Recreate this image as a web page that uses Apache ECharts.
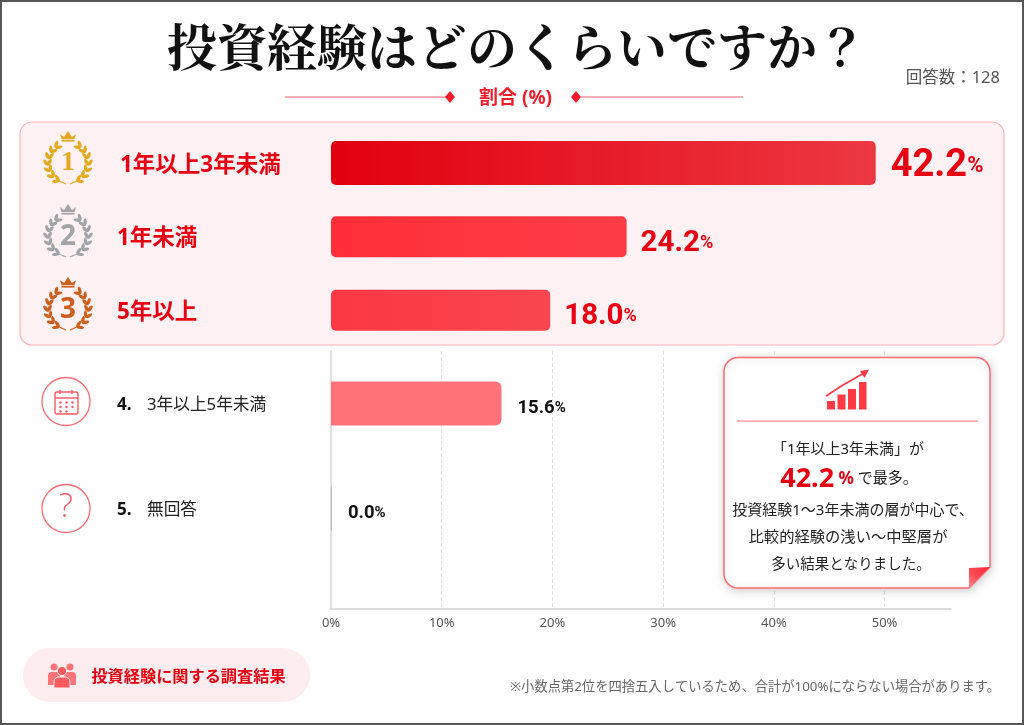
<!DOCTYPE html>
<html lang="ja"><head><meta charset="utf-8">
<style>html,body{margin:0;padding:0;background:#fff}#c{width:1024px;height:725px}</style>
<script src="https://cdn.jsdelivr.net/npm/echarts@6/dist/echarts.min.js"></script>
</head><body><div id="c"></div>
<script>
const categories = ['1年以上3年未満','1年未満','5年以上','3年以上5年未満','無回答'];
// the percentages printed beside the bars
const shownPercent = [42.2,24.2,18.0,15.6,0.0];
// how far each drawn bar reaches on the printed axis
const barReach = [49.2,26.7,19.8,15.4,0];
const tickLabels = [0,10,20,30,40,50];
const respondents = '回答数：128';

const JP = '"Noto Sans","Noto Sans CJK JP",sans-serif';
const NUM = '"Roboto","Noto Sans",sans-serif';
const RED = '#E60012';
const chart = echarts.init(document.getElementById('c'));

function grad(a,b){return new echarts.graphic.LinearGradient(0,0,1,0,[{offset:0,color:a},{offset:1,color:b}]);}
const g = [];
function txt(x,y,text,style,z){g.push({type:'text',x,y,z:z||1,style:Object.assign({text,align:'center',verticalAlign:'middle',fontFamily:JP,fill:'#222'},style)});}
function corner(pts,cx,cy,r,a0,a1){for(let i=0;i<=8;i++){const a=(a0+(a1-a0)*i/8)*Math.PI/180;pts.push([cx+r*Math.cos(a),cy+r*Math.sin(a)]);}}

// frame
g.push({type:'rect',z:-3,shape:{x:1,y:1,width:1022,height:723},style:{fill:'#FEFEFE',stroke:'#555',lineWidth:2}});
// header decorations
g.push({type:'line',z:1,shape:{x1:285,y1:97,x2:446,y2:97},style:{stroke:'#FF9097',lineWidth:1.5}});
g.push({type:'line',z:1,shape:{x1:581,y1:97,x2:743,y2:97},style:{stroke:'#FF9097',lineWidth:1.5}});
[450,576].forEach(x=>g.push({type:'polygon',z:1,shape:{points:[[x-5,97],[x,91],[x+5,97],[x,103]]},style:{fill:'#F01C2A'}}));
txt(515.5,98.5,'割合 (%)',{fontSize:19,fontWeight:'bold',fill:'#F01C2A'});
txt(1000,78,respondents,{align:'right',fontSize:16.5,fill:'#555'});
// top-three panel
g.push({type:'rect',z:-2,shape:{x:20,y:122,width:984,height:223,r:12},style:{fill:'#FEF1F3',stroke:'#FFB5BA',lineWidth:1.2}});

// medals
function medal(cy,color,num,numFont,dy){
  const cx=68, R=20;
  for(const side of [-1,1]){
    for(let i=0;i<7;i++){
      const a=(-50+i*19)*Math.PI/180;
      const px=cx+side*R*Math.cos(a), py=cy+R*Math.sin(a);
      const base=Math.atan2(Math.cos(a),-Math.sin(a));
      for(const tilt of [0.55,-0.55]){
        const l=base+tilt;
        const ox=px+(side<0?1:-1)*3.6*Math.cos(l), oy=py-3.6*Math.sin(l);
        g.push({type:'ellipse',z:1,originX:ox,originY:oy,
          rotation:side<0?l:Math.PI-l,shape:{cx:ox,cy:oy,rx:3.7,ry:1.7},style:{fill:color}});
      }
    }
    g.push({type:'line',z:1,shape:{x1:cx+side*11,y1:cy+17,x2:cx+side*2,y2:cy+21},style:{stroke:color,lineWidth:1.3}});
  }
  g.push({type:'polygon',z:1,shape:{points:[[cx-8,cy-29],[cx-4,cy-26],[cx,cy-32],[cx+4,cy-26],[cx+8,cy-29],[cx+6.5,cy-24],[cx-6.5,cy-24]]},style:{fill:color}});
  g.push({type:'rect',z:1,shape:{x:cx-6.5,y:cy-23.2,width:13,height:1.8},style:{fill:color}});
  txt(cx,cy+dy,num,{fontSize:28,fontWeight:'bold',fill:color,fontFamily:numFont});
}
medal(163,'#E3A91F','1','"Liberation Serif",serif',0);
medal(236,'#A2A4A7','2',JP,1.5);
medal(309,'#CC5F1D','3',JP,1.5);

// row-4 and row-5 icons
[[66,401.5],[66,508.5]].forEach(([x,y])=>g.push({type:'circle',z:1,shape:{cx:x,cy:y,r:24},style:{fill:'#fff',stroke:'#FF6B72',lineWidth:1.3}}));
g.push({type:'rect',z:2,shape:{x:55,y:392,width:23,height:22,r:2},style:{fill:'none',stroke:'#FF5A62',lineWidth:1.4}});
g.push({type:'line',z:2,shape:{x1:55,y1:398,x2:78,y2:398},style:{stroke:'#FF5A62',lineWidth:1.4}});
[60,72].forEach(x=>g.push({type:'line',z:2,shape:{x1:x,y1:390,x2:x,y2:394},style:{stroke:'#FF5A62',lineWidth:1.4}}));
for(let r=0;r<3;r++)for(let c=0;c<3;c++){if(r==2&&c==2)continue;g.push({type:'circle',z:2,shape:{cx:60.5+c*6,cy:402.5+r*4.5,r:1.25},style:{fill:'#FF5A62'}});}
txt(66,508,'?',{fontSize:33,fill:'#FF5A62',fontFamily:'"Open Sans",sans-serif',fontWeight:300});

// callout
const card=[];
corner(card,738,371.5,14,180,270);
corner(card,976,371.5,14,270,360);
card.push([990,567],[969,588]);
corner(card,738,574,14,90,180);
g.push({type:'polygon',z:20,shape:{points:card},
  style:{fill:'#FFFFFF',stroke:'#FF6B72',lineWidth:1.5,shadowBlur:8,shadowColor:'rgba(0,0,0,0.18)',shadowOffsetY:2,shadowOffsetX:1}});
g.push({type:'polygon',z:21,shape:{points:[[969,588],[990,567],[969,568]]},
  style:{fill:new echarts.graphic.LinearGradient(1,0,0,1,[{offset:0,color:'#FF2431'},{offset:0.6,color:'#FF4E58'},{offset:1,color:'#FF8A90'}])}});
[[827,401,8],[837.5,394.5,8],[848,389,8],[859,382,7.5]].forEach(([x,y,w])=>g.push({type:'rect',z:21,shape:{x,y,width:w,height:409.5-y},style:{fill:'#FF3A44'}}));
g.push({type:'polyline',z:21,shape:{points:[[826,396],[843,385],[865,372.5]]},style:{fill:'none',stroke:'#FF3A44',lineWidth:1.8}});
g.push({type:'polygon',z:21,shape:{points:[[869,369.5],[860,371],[864.5,378]]},style:{fill:'#FF3A44'}});
g.push({type:'line',z:21,shape:{x1:737,y1:421,x2:978,y2:421},style:{stroke:'#FF6B72',lineWidth:1.2}});
txt(848,449.5,'「1年以上3年未満」が',{fontSize:15,fill:'#222'},21);
g.push({type:'text',z:21,x:849,y:479,style:{text:'{a|42.2}{b| %}{c| で最多。}',align:'center',verticalAlign:'middle',fontFamily:JP,
  rich:{a:{fontSize:27,fontWeight:'bold',fill:RED,fontFamily:JP},b:{fontSize:17,fontWeight:'bold',fill:RED,fontFamily:JP},c:{fontSize:15,fill:'#222',fontFamily:JP}}}});
txt(853,511,'投資経験1〜3年未満の層が中心で、',{fontSize:15,fill:'#222'},21);
txt(848,538,'比較的経験の浅い〜中堅層が',{fontSize:15.3,fill:'#222'},21);
txt(851,565,'多い結果となりました。',{fontSize:14.5,fill:'#222'},21);

// footer
g.push({type:'rect',z:-1,shape:{x:23,y:648,width:287,height:54,r:27},style:{fill:'#FEEDEE'}});
[[54,667,3.5],[70,667,3.5]].forEach(([x,y,r])=>g.push({type:'circle',z:1,shape:{cx:x,cy:y,r},style:{fill:'#FF7378'}}));
[48,64].forEach(x=>g.push({type:'rect',z:1,shape:{x,y:672,width:12,height:13,r:[4,4,0,0]},style:{fill:'#FF7378'}}));
g.push({type:'circle',z:2,shape:{cx:62,cy:671,r:4.6},style:{fill:'#FF5A60',stroke:'#FEEDEE',lineWidth:1}});
g.push({type:'rect',z:2,shape:{x:54,y:677,width:16,height:11,r:[5,5,0,0]},style:{fill:'#FF5A60',stroke:'#FEEDEE',lineWidth:1}});
txt(188.5,677,'投資経験に関する調査結果',{fontSize:16.2,fontWeight:'bold',fill:RED});
txt(1000,687,'※小数点第2位を四捨五入しているため、合計が100%にならない場合があります。',{align:'right',fontSize:13.3,fill:'#666'});

// grids: three bar rows groups + one for the printed axis
const grids=[
  {left:331,top:126,width:620,height:74},
  {left:331,top:200,width:620,height:147},
  {left:331,top:351,width:620,height:210},
  {left:331,top:351,width:620,height:258}
];
const xBase={type:'value',min:0,max:56,interval:10};
const xAxes=[0,1,2].map(i=>Object.assign({},xBase,{gridIndex:i,show:false}));
xAxes.push(Object.assign({},xBase,{gridIndex:3,
  axisLine:{show:true,lineStyle:{color:'#CFCFCF',width:1.5}},axisTick:{show:false},
  axisLabel:{color:'#555',fontSize:13,fontFamily:JP,margin:8,showMaxLabel:false,
    formatter:v=>tickLabels.includes(v)?v+'%':''},
  splitLine:{show:true,showMinLine:false,showMaxLine:false,lineStyle:{color:'#E2E2E2',type:'dashed',width:1}}}));

function yCat(i,cats,margin,fmt,rich){
  return {type:'category',gridIndex:i,inverse:true,data:cats,axisLine:{show:false},axisTick:{show:false},
    axisLabel:{margin,align:'left',formatter:fmt,rich}};
}
const topRich={t:{fontSize:22.5,fontWeight:'bold',color:RED,fontFamily:JP,padding:[5,0,0,0]}};
const midRich={t:{fontSize:22.5,fontWeight:'bold',color:RED,fontFamily:JP,padding:[4,0,0,0]}};
const lowRich={n:{fontSize:17,fontWeight:'bold',color:'#111',fontFamily:JP,width:30,align:'left',padding:[4,0,0,0]},
               t:{fontSize:16.7,color:'#222',fontFamily:JP,padding:[4,0,0,0]}};
const yAxes=[
  yCat(0,categories.slice(0,1),211,v=>'{t|'+v+'}',topRich),
  yCat(1,categories.slice(1,3),214,v=>'{t|'+v+'}',midRich),
  yCat(2,categories.slice(3,5),214,(v,i)=>'{n|'+(i+4)+'.}{t|'+v+'}',lowRich),
  {type:'value',gridIndex:3,min:0,max:1,axisLine:{show:true,lineStyle:{color:'#D4D4D4',width:1.5}},axisTick:{show:false},axisLabel:{show:false},splitLine:{show:false}}
];

function lbl(rows,vSize,pSize,color,font,dist){
  return {show:true,position:'right',distance:dist,
    formatter:p=>'{v|'+shownPercent[rows[p.dataIndex]].toFixed(1)+'}{p|%}',
    rich:{v:{fontSize:vSize,fontWeight:'bold',color,fontFamily:font},p:{fontSize:pSize,fontWeight:'bold',color,fontFamily:font}}};
}
const series=[
  {type:'bar',xAxisIndex:0,yAxisIndex:0,barWidth:44,silent:true,
   data:[{value:barReach[0],label:{offset:[0,3]},itemStyle:{color:grad('#E2000F','#EC3842'),borderRadius:5}}],
   label:lbl([0],38,22,RED,NUM,15)},
  {type:'bar',xAxisIndex:1,yAxisIndex:1,barWidth:41,silent:true,
   data:[{value:barReach[1],label:{offset:[0,7]},itemStyle:{color:grad('#FF2E38','#FF3D47'),borderRadius:5}},
         {value:barReach[2],label:{offset:[0,6]},itemStyle:{color:grad('#FB3843','#F9464F'),borderRadius:5}}],
   label:lbl([1,2],29.5,18,RED,NUM,14)},
  {type:'bar',xAxisIndex:2,yAxisIndex:2,barWidth:44,barMinHeight:1,silent:true,
   data:[{value:barReach[3],label:{offset:[0,5]},itemStyle:{color:'#FF7279',borderRadius:[0,6,6,0]}},
         {value:barReach[4],label:{offset:[0,5]},itemStyle:{color:'#BDBDBD'}}],
   label:lbl([3,4],18.5,15,'#111',NUM,16)}
];

chart.setOption({
  animation:false,backgroundColor:'#FFFFFF',
  title:{text:'投資経験はどのくらいですか？',left:512,textAlign:'center',top:17,
    textStyle:{fontSize:50,fontWeight:'bold',color:'#111',fontFamily:'"Noto Serif CJK JP","Liberation Serif","Noto Sans CJK JP"'}},
  graphic:{elements:g},
  grid:grids,xAxis:xAxes,yAxis:yAxes,series
});
</script></body></html>
